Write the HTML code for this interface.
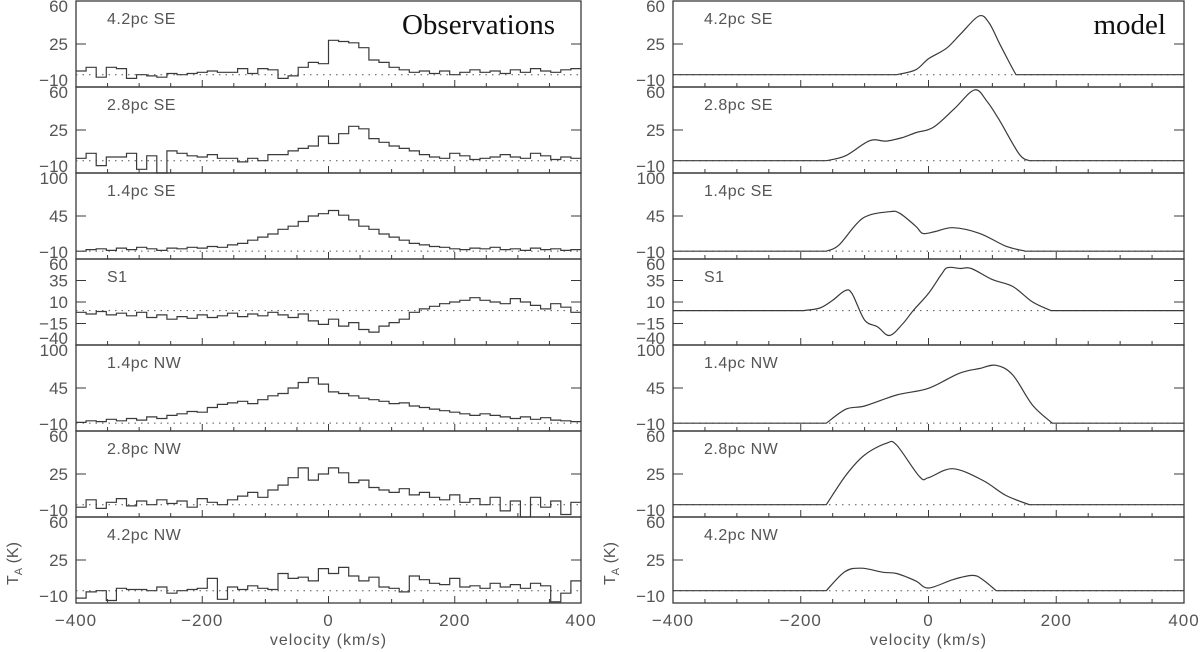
<!DOCTYPE html>
<html><head><meta charset="utf-8"><style>
html,body{margin:0;padding:0;background:#fff;}
svg{display:block;font-family:"Liberation Sans",sans-serif;}
</style></head><body>
<svg id="chart" width="1200" height="652" viewBox="0 0 1200 652" xmlns="http://www.w3.org/2000/svg"></svg>
<script>
const panelLabels = ["4.2pc SE","2.8pc SE","1.4pc SE","S1","1.4pc NW","2.8pc NW","4.2pc NW"];
const yRanges = [[-10,60],[-10,60],[-10,100],[-40,60],[-10,100],[-10,60],[-10,60]];
const yTickSets = [[60,25,-10],[60,25,-10],[100,45,-10],[60,35,10,-15,-40],[100,45,-10],[60,25,-10],[60,25,-10]];
const xTicks = [-400,-200,0,200,400];
const obsBinStart = -400, obsBinWidth = 16;
const obs1 = [3,6,-2,6,5,-3,0,-1,-2,1, 0,1,2,3,2,2,5,1,5,4, -3,-1,6,10,9,28,27,26,22,12, 10,6,4,2,3,1,3,0,2,4, 2,3,1,4,2,5,3,2,4,5];
const obs2 = [2,6,-4,3,3,6,-7,4,-10,8, 6,4,3,5,2,2,-1,2,0,5, 5,8,10,12,20,14,22,28,26,18, 15,12,10,8,5,3,2,6,4,1, 2,3,5,3,2,6,4,1,3,2];
const obs3 = [0,2,3,1,4,2,5,3,1,4, 3,5,4,6,5,8,10,14,18,22, 28,32,38,45,48,52,46,40,32,28, 22,18,14,10,8,6,5,3,2,4, 3,5,2,3,1,4,2,3,1,2];
const obs4 = [-2,-4,-1,-5,-3,-6,-2,-8,-5,-10, -7,-9,-5,-8,-6,-3,-7,-4,-6,-2, -5,-8,-4,-12,-16,-10,-18,-14,-22,-25, -18,-14,-10,-2,2,5,8,10,12,15, 12,10,8,14,10,6,2,8,4,-2];
const obs5 = [1,3,2,5,3,6,4,8,6,10, 12,15,14,20,24,26,28,25,30,35, 38,45,52,58,50,40,38,35,32,30, 28,25,26,22,20,18,16,14,12,10, 12,10,8,6,8,5,7,4,3,2];
const obs6 = [-2,4,-3,2,5,-1,3,0,4,1, 3,-2,5,2,0,4,7,10,6,12, 16,22,30,20,25,30,26,18,20,14, 12,10,13,8,10,6,4,8,2,5, 0,6,-5,3,-10,6,-2,3,-8,2];
const obs7 = [-6,-1,0,-8,2,1,1,0,3,-2, 0,1,2,10,-7,3,1,4,2,1, 14,10,11,8,18,14,19,12,8,11, 3,2,-1,12,9,6,5,10,3,4, 2,6,3,5,2,6,4,-9,-2,8];
const obsSeries = [obs1,obs2,obs3,obs4,obs5,obs6,obs7];
const m1v = [-50,-20,0,28,50,79,95,111,127,137];
const m1t = [0,4,13,21.5,33,47.8,42,25.6,9.5,0];
const m2v = [-160,-130,-92,-66,-40,-19,7,40,72,92,111,142,158];
const m2t = [0,4,16.3,16,19,23,27,42,57.6,48,33,5.4,0];
const m3v = [-160,-140,-103,-61,-45,-20,-9,10,38,80,121,152];
const m3t = [0,8,42,50.5,48.4,32,22.8,25,30,22.8,6.4,0];
const m4v = [-196,-170,-150,-131,-120,-100,-80,-61,-40,-24,0,20,30,50,67,100,132,163,192];
const m4t = [0,3,12,23,20,-11,-18.7,-29,-15,0,20,42,50,49,49,36,28,10,0];
const m5v = [-160,-129,-100,-50,0,48,80,106,132,163,194];
const m5t = [0,18,22,36,44.6,63.8,70,74,61.6,23,0];
const m6v = [-160,-129,-100,-66,-50,-14,0,38,85,121,158];
const m6t = [0,24.2,40.5,50,48.6,22.8,22,29.3,19.8,7.6,0];
const m7v = [-160,-131,-105,-71,-50,-20,0,38,69,85,106];
const m7t = [0,15.5,18.3,15,14,8,2.2,9,12.5,9,0];
const modelV = [m1v,m2v,m3v,m4v,m5v,m6v,m7v];
const modelT = [m1t,m2t,m3t,m4t,m5t,m6t,m7t];

const svg = document.getElementById('chart');
const NS = "http://www.w3.org/2000/svg";
const C = "#3a3a3a";
function mk(tag, attrs, parent){const e=document.createElementNS(NS,tag);for(const k in attrs)e.setAttribute(k,attrs[k]);(parent||svg).appendChild(e);return e;}
const cols = [{x0:76,x1:581,side:'obs'},{x0:673,x1:1184,side:'model'}];
const top0 = 1, ph = 86;
function xScale(c,v){return c.x0+(v+400)/800*(c.x1-c.x0);}
function yScale(i,t){const [a,b]=yRanges[i];const y0=top0+ph*i;return y0+ph-(t-a)/(b-a)*ph;}

cols.forEach((c,ci)=>{
  for(let i=0;i<7;i++){
    const g = mk('g',{});
    
    
    const yt=top0+ph*i, yb=yt+ph;
    const fr = mk('rect',{x:c.x0,y:yt,width:c.x1-c.x0,height:ph,fill:'none',stroke:C,'stroke-width':1.3},g);
    
    
    for(let v=-400;v<=400;v+=50){
      const x=xScale(c,v);const L=(v%200===0)?7:4;
      mk('line',{x1:x,x2:x,y1:yb,y2:yb-L,stroke:C,'stroke-width':1},g);
    }
    yTickSets[i].forEach(t=>{
      const y=yScale(i,t);
      if(t!==yRanges[i][0]&&t!==yRanges[i][1]){
        mk('line',{x1:c.x0,x2:c.x0+10,y1:y,y2:y,stroke:C,'stroke-width':1},g);
        mk('line',{x1:c.x1,x2:c.x1-10,y1:y,y2:y,stroke:C,'stroke-width':1},g);
      }
      const ty = t===yRanges[i][1]? y+11 : (t===yRanges[i][0]? y-1 : y+6);
      const lab = mk('text',{x:c.x0-8,y:ty,'text-anchor':'end','font-size':17,fill:'#555'},g);
      lab.textContent = (t<0?'\u2212':'')+Math.abs(t);
      
      
    });
    const zy = yScale(i,0);
    mk('line',{x1:c.x0,x2:c.x1,y1:zy,y2:zy,stroke:'#555','stroke-width':1,'stroke-dasharray':'1.5,5'},g);
    const tl = mk('text',{x:c.x0+31,y:yt+23,'font-size':16,fill:'#555','letter-spacing':'0.5'},g);
    tl.textContent = panelLabels[i];
    
    
    let d='';
    if(c.side==='obs'){
      const arr=obsSeries[i];
      arr.forEach((t,k)=>{
        const xa=xScale(c,obsBinStart+k*obsBinWidth), xb=xScale(c,obsBinStart+(k+1)*obsBinWidth);
        const y=yScale(i,Math.max(yRanges[i][0],t));
        d += (k===0?'M':'L')+xa.toFixed(1)+','+y.toFixed(1)+'L'+xb.toFixed(1)+','+y.toFixed(1);
      });
    } else {
      const vs=modelV[i], ts=modelT[i];
      const pts=vs.map((v,k)=>[xScale(c,v),yScale(i,ts[k])]);
      d='M'+c.x0+','+yScale(i,0).toFixed(1)+'L'+pts[0][0].toFixed(1)+','+pts[0][1].toFixed(1);
      for(let k=0;k<pts.length-1;k++){
        const p0=pts[Math.max(0,k-1)],p1=pts[k],p2=pts[k+1],p3=pts[Math.min(pts.length-1,k+2)];
        const c1=[p1[0]+(p2[0]-p0[0])/6,p1[1]+(p2[1]-p0[1])/6];
        const c2=[p2[0]-(p3[0]-p1[0])/6,p2[1]-(p3[1]-p1[1])/6];
        d+='C'+c1.map(n=>n.toFixed(1)).join(',')+' '+c2.map(n=>n.toFixed(1)).join(',')+' '+p2.map(n=>n.toFixed(1)).join(',');
      }
      d+='L'+c.x1+','+yScale(i,0).toFixed(1);
    }
    const p = mk('path',{d:d,fill:'none',stroke:C,'stroke-width':1.2},g);
    
    
  }
  xTicks.forEach(v=>{
    const t=mk('text',{x:xScale(c,v),y:626,'text-anchor':'middle','font-size':17,fill:'#555','letter-spacing':'1'});
    t.textContent=(v<0?'\u2212':'')+Math.abs(v);
    
    
  });
  const xt=mk('text',{x:(c.x0+c.x1)/2,y:645,'text-anchor':'middle','font-size':16,fill:'#555','letter-spacing':'1'});
  xt.textContent='velocity (km/s)';
  
  
  const yt=mk('text',{x:0,y:0,'font-size':16,fill:'#555',transform:'translate('+(c.x0-58)+',585) rotate(-90)'});
  yt.innerHTML='T<tspan font-size="11" dy="4">A</tspan><tspan dy="-4"> (K)</tspan>';
  
  
});
const ob=mk('text',{x:555,y:34,'text-anchor':'end','font-size':29,fill:'#111','font-family':'"Liberation Serif",serif'});
ob.textContent='Observations';


const md=mk('text',{x:1166,y:34,'text-anchor':'end','font-size':29,fill:'#111','font-family':'"Liberation Serif",serif'});
md.textContent='model';


</script>
</body></html>
